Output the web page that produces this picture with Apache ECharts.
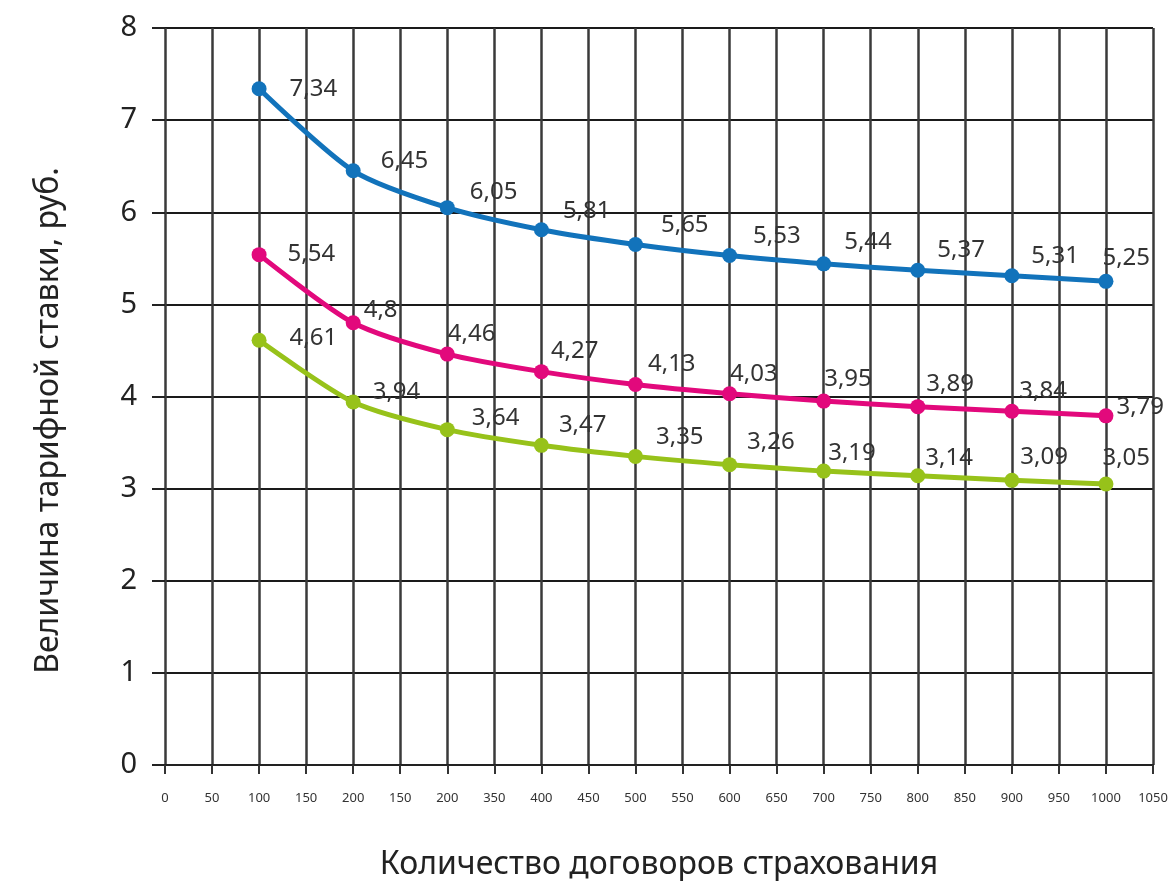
<!DOCTYPE html>
<html>
<head>
<meta charset="utf-8">
<script src="https://cdn.jsdelivr.net/npm/echarts@6/dist/echarts.min.js"></script>
<style>
  html, body { margin: 0; padding: 0; background: #fff; }
  #chart { width: 1170px; height: 881px; }
</style>
</head>
<body>
<div id="chart"></div>
<script>
// Number of insurance contracts (x positions of the points)
const contracts = [100, 200, 300, 400, 500, 600, 700, 800, 900, 1000];

// Tariff rate, rub. — three curves
const seriesTop = [7.34, 6.45, 6.05, 5.81, 5.65, 5.53, 5.44, 5.37, 5.31, 5.25];
const seriesMid = [5.54, 4.8, 4.46, 4.27, 4.13, 4.03, 3.95, 3.89, 3.84, 3.79];
const seriesLow = [4.61, 3.94, 3.64, 3.47, 3.35, 3.26, 3.19, 3.14, 3.09, 3.05];

// Tick labels printed under the x axis (one every 50)
const xTickLabels = ['0', '50', '100', '150', '200', '150', '200', '350', '400', '450', '500',
  '550', '600', '650', '700', '750', '800', '850', '900', '950', '1000', '1050'];

const colors = ['#1273bb', '#e2097c', '#97c21a'];

// value-label shifts [dx, dy] relative to the 'right' label position, per curve
const labelShift = [
  [[18, 0], [15, -10], [10, -15], [9, -19], [13, -19], [11, -19], [8, -22], [7, -20], [7, -20], [-16, -23]],
  [[16, 0], [-2, -13], [-12, -20], [-3, -20], [0, -20], [-12, -20], [-12, -22], [-4, -22], [-5, -20], [-2, -9]],
  [[18, -2], [7, -10], [12, -12], [5, -20], [8, -19], [5, -23], [-8, -18], [-5, -18], [-4, -23], [-16, -26]]
];

function buildData(values, seriesIdx) {
  return values.map((v, i) => ({
    value: [contracts[i], v],
    label: { offset: labelShift[seriesIdx][i] }
  }));
}

function makeSeries(values, idx) {
  return {
    type: 'line',
    data: buildData(values, idx),
    smooth: 0.25,
    symbol: 'circle',
    symbolSize: 15,
    lineStyle: { color: colors[idx], width: 5 },
    itemStyle: { color: colors[idx] },
    label: {
      show: true,
      position: 'right',
      distance: 5,
      color: '#333',
      fontSize: 24,
      fontFamily: 'Noto Sans',
      formatter: p => String(p.value[1]).replace('.', ',')
    },
    z: 5 + idx
  };
}

const chart = echarts.init(document.getElementById('chart'), null, { renderer: 'canvas' });
chart.setOption({
  animation: false,
  backgroundColor: '#fff',
  grid: { left: 165, right: 17, top: 28, bottom: 116, containLabel: false, outerBoundsMode: 'none' },
  xAxis: {
    type: 'value',
    min: 0,
    max: 1050,
    interval: 50,
    name: 'Количество договоров страхования',
    nameLocation: 'middle',
    nameGap: 84,
    nameTextStyle: { fontSize: 32, color: '#222', fontFamily: 'Noto Sans' },
    axisLine: { show: true, lineStyle: { color: '#222', width: 2 } },
    axisTick: { show: true, length: 9, lineStyle: { color: '#333', width: 2 } },
    axisLabel: {
      margin: 27,
      fontSize: 13,
      color: '#333',
      fontFamily: 'Noto Sans',
      formatter: v => xTickLabels[Math.round(v / 50)]
    },
    splitLine: { show: true, lineStyle: { color: '#3a3a3a', width: 2.5 } }
  },
  yAxis: {
    type: 'value',
    min: 0,
    max: 8,
    interval: 1,
    name: 'Величина тарифной ставки, руб.',
    nameLocation: 'middle',
    nameGap: 100,
    nameTextStyle: { fontSize: 32, color: '#222', fontFamily: 'Noto Sans', padding: [0, 48, 0, 0] },
    axisLine: { show: false },
    axisTick: { show: true, length: 13, lineStyle: { color: '#222', width: 2 } },
    axisLabel: { margin: 28, fontSize: 29, color: '#222', fontFamily: 'Noto Sans' },
    splitLine: { show: true, lineStyle: { color: '#1a1a1a', width: 2 } }
  },
  series: [makeSeries(seriesTop, 0), makeSeries(seriesMid, 1), makeSeries(seriesLow, 2)]
});
</script>
</body>
</html>
